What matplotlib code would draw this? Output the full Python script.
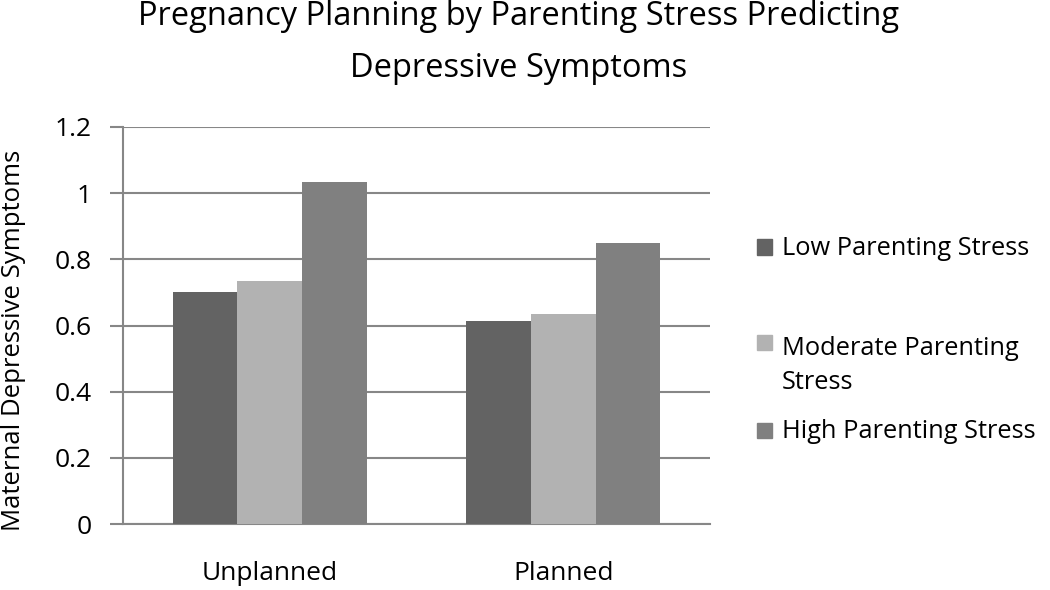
import matplotlib
matplotlib.use("Agg")
import matplotlib.pyplot as plt
import numpy as np
from matplotlib.patches import Rectangle

categories = ["Unplanned", "Planned"]
series_names = ["Low Parenting Stress", "Moderate Parenting\nStress", "High Parenting Stress"]
low = [0.70, 0.613]
moderate = [0.734, 0.635]
high = [1.035, 0.848]
series_values = [low, moderate, high]
colors = ["#636363", "#b2b2b2", "#808080"]
yticks = [0, 0.2, 0.4, 0.6, 0.8, 1.0, 1.2]
title_lines = ["Pregnancy Planning by Parenting Stress Predicting", "Depressive Symptoms"]
ylabel = "Maternal Depressive Symptoms"

plt.rcParams['font.family'] = ['Open Sans', 'DejaVu Sans']

W, H = 1050, 590
fig = plt.figure(figsize=(W / 100, H / 100), dpi=100)
ax = fig.add_axes([123 / W, 1 - 524 / H, (710 - 123) / W, (524 - 127) / H])

x = np.arange(len(categories))
w = 0.22
for i, (vals, c) in enumerate(zip(series_values, colors)):
    ax.bar(x + (i - 1) * w, vals, width=w, color=c, zorder=3, linewidth=0)

grid_c = "#878787"
ax.set_xlim(-0.5, 1.5)
ax.set_ylim(0, 1.2)
ax.set_yticks(yticks)
ax.set_yticklabels([f"{v:g}" for v in yticks], fontsize=19)
ax.set_xticks(x)
ax.set_xticklabels(categories, fontsize=19)
ax.tick_params(axis='x', length=0, pad=27)
ax.tick_params(axis='y', length=9.5, width=1.5, color=grid_c, pad=13)
ax.grid(axis='y', color=grid_c, linewidth=1.5, zorder=1)
ax.set_axisbelow(True)
for s in ['top', 'right']:
    ax.spines[s].set_visible(False)
for s in ['left', 'bottom']:
    ax.spines[s].set_color(grid_c)
    ax.spines[s].set_linewidth(1.5)

fig.text(14 / W, 1 - 340 / H, ylabel, rotation=90, ha='center', va='center', fontsize=18.5)

# title (two lines)
for k, line in enumerate(title_lines):
    fig.text(519 / W, 1 - (25 + 52 * k) / H, line, ha='center', va='baseline', fontsize=23.5)

# legend
leg_base = [255, 355, 438]
sq_center = [247, 342, 430]
for name, c, yb, ys in zip(series_names, colors, leg_base, sq_center):
    fig.patches.append(Rectangle((757 / W, 1 - (ys + 7.5) / H), 15 / W, 15 / H,
                                 transform=fig.transFigure, color=c, figure=fig))
    for k, line in enumerate(name.split("\n")):
        fig.text(782 / W, 1 - (yb + 34 * k) / H, line, ha='left', va='baseline', fontsize=18.3)

fig.savefig("out.png", dpi=100)
